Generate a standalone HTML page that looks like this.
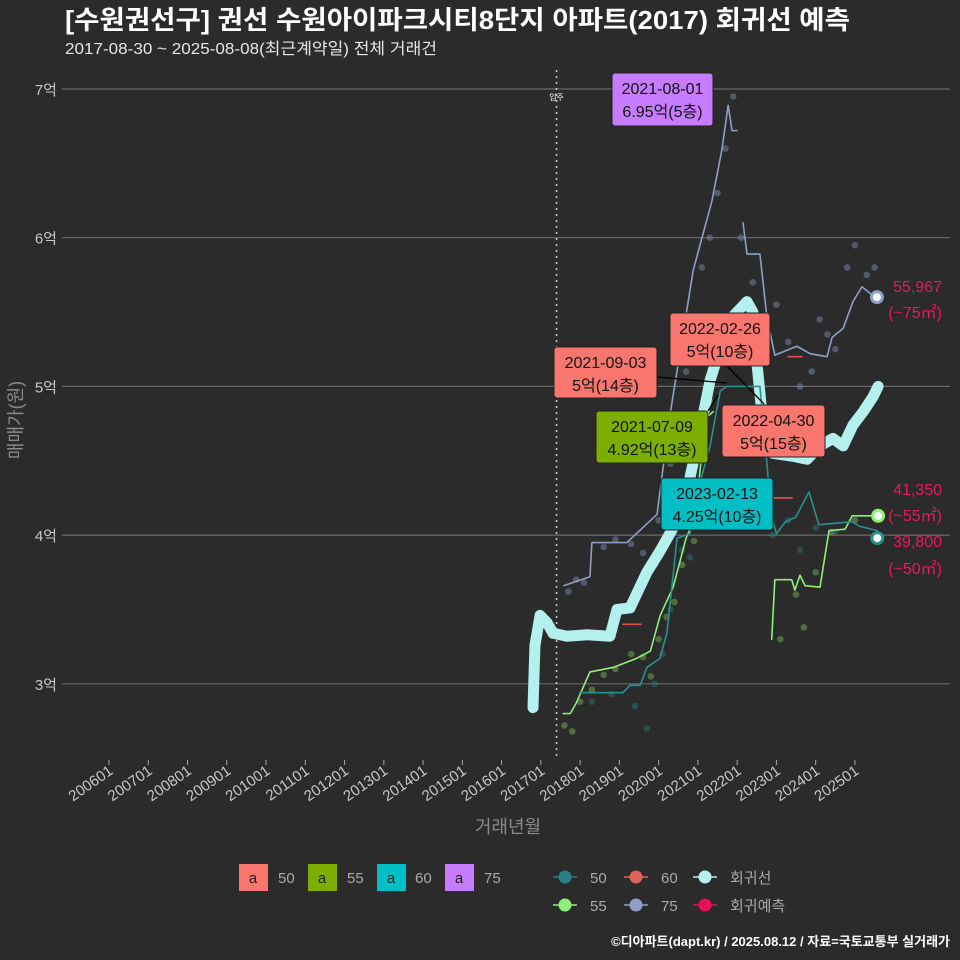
<!DOCTYPE html>
<html><head><meta charset="utf-8">
<style>
html,body{margin:0;padding:0;background:#2b2b2b;}
svg{display:block;font-family:"Liberation Sans","Noto Sans CJK KR",sans-serif;}
</style></head>
<body>
<svg id="chart" width="960" height="960" viewBox="0 0 960 960">
<rect width="960" height="960" fill="#2b2b2b"/>
<text x="65" y="29" fill="#ffffff" font-size="26" font-weight="bold" textLength="785" lengthAdjust="spacingAndGlyphs">[수원권선구] 권선 수원아이파크시티8단지 아파트(2017) 회귀선 예측</text>
<text x="65" y="54" fill="#e6e6e6" font-size="16" textLength="372" lengthAdjust="spacingAndGlyphs">2017-08-30 ~ 2025-08-08(최근계약일) 전체 거래건</text>
<g id="grid"></g>
<g id="axes"></g>
<g id="marks"></g>
<g id="annot"></g>
<text x="0" y="0" transform="translate(22,420) rotate(-90)" text-anchor="middle" fill="#8a8a8a" font-size="18">매매가(원)</text>
<text x="508" y="833" text-anchor="middle" fill="#8a8a8a" font-size="18">거래년월</text>
<g font-size="15">
 <g><rect x="239" y="864" width="29" height="27" fill="#f8766d"/><text x="253" y="883" text-anchor="middle" fill="#222">a</text><text x="278" y="883" fill="#aaa">50</text></g>
 <g><rect x="308" y="864" width="29" height="27" fill="#7cae00"/><text x="322" y="883" text-anchor="middle" fill="#222">a</text><text x="347" y="883" fill="#aaa">55</text></g>
 <g><rect x="377" y="864" width="29" height="27" fill="#00bfc4"/><text x="391" y="883" text-anchor="middle" fill="#222">a</text><text x="415" y="883" fill="#aaa">60</text></g>
 <g><rect x="445" y="864" width="29" height="27" fill="#c77cff"/><text x="459" y="883" text-anchor="middle" fill="#222">a</text><text x="484" y="883" fill="#aaa">75</text></g>
</g>
<g id="legend2" font-size="15"></g>
<text x="950" y="946" text-anchor="end" fill="#ffffff" font-size="13" font-weight="bold">©디아파트(dapt.kr) / 2025.08.12 / 자료=국토교통부 실거래가</text>
</svg>
<script>
// ---- data (year as decimal, price in 억) ----
const yTicks = [3,4,5,6,7];
const xTickYears = [2006,2007,2008,2009,2010,2011,2012,2013,2014,2015,2016,2017,2018,2019,2020,2021,2022,2023,2024,2025];
const regYears = [2016.80,2016.85,2016.98,2017.16,2017.31,2017.67,2018.18,2018.76,2018.94,2019.27,2019.70,2020.03,2020.37,2020.72,2021.06,2021.31,2021.57,2021.89,2022.25,2022.40,2022.51,2022.66,2022.91,2023.42,2023.78,2024.11,2024.44,2024.70,2024.95,2025.21,2025.46,2025.59];
const regValues = [2.84,3.26,3.46,3.41,3.34,3.32,3.33,3.32,3.50,3.51,3.75,3.89,4.05,4.29,4.71,5.04,5.26,5.47,5.57,5.50,5.14,4.74,4.55,4.53,4.51,4.60,4.65,4.60,4.74,4.83,4.93,5.00];
const s75Years = [2017.59,2018.25,2018.30,2019.19,2019.96,2020.29,2020.88,2021.36,2021.61,2021.77,2021.87,2022.00];
const s75Values = [3.66,3.72,3.95,3.95,4.14,4.81,5.78,6.25,6.59,6.89,6.72,6.72];
const s75bYears = [2022.15,2022.25,2022.58,2022.76,2022.96,2023.52,2023.86,2024.29,2024.42,2024.70,2024.95,2025.18,2025.46,2025.56];
const s75bValues = [6.10,5.89,5.89,5.46,5.21,5.27,5.22,5.20,5.33,5.39,5.57,5.67,5.61,5.60];
const s55Years = [2017.57,2017.75,2017.90,2018.25,2018.84,2019.43,2019.79,2020.04,2020.37,2020.70,2020.93,2021.06,2021.21,2021.39];
const s55Values = [2.80,2.80,2.87,3.08,3.11,3.17,3.22,3.46,3.65,3.98,4.12,4.45,4.79,4.83];
const s55bYears = [2022.88,2022.96,2023.39,2023.47,2023.60,2023.73,2024.11,2024.34,2024.75,2024.93,2025.59];
const s55bValues = [3.30,3.70,3.70,3.63,3.73,3.66,3.65,4.03,4.04,4.13,4.13];
const s50Years = [2017.99,2019.09,2019.27,2019.53,2019.70,2020.03,2020.21,2020.47,2020.80,2021.06,2021.31,2021.57,2021.74,2022.58,2022.88,2023.00,2023.23,2023.49,2023.83,2024.08,2024.51,2024.93,2025.11,2025.57];
const s50Values = [2.94,2.94,2.99,2.99,3.11,3.17,3.34,3.98,4.01,4.36,4.60,4.97,5.00,5.00,4.12,4.01,4.09,4.12,4.29,4.07,4.08,4.09,4.06,4.03];
const s60Years = [2019.09,2019.55,2022.93,2023.40,2023.30,2023.65];
const s60Values = [3.40,3.40,4.25,4.25,5.20,5.20];
const dot75Years = [2017.7,2017.9,2018.1,2018.6,2018.9,2019.3,2019.6,2019.9,2020.0,2020.3,2020.5,2020.7,2020.9,2021.1,2021.3,2021.5,2021.7,2021.9,2022.1,2022.4,2022.7,2023.0,2023.3,2023.6,2023.9,2024.1,2024.3,2024.5,2024.8,2025.0,2025.3,2025.5];
const dot75Values = [3.62,3.70,3.68,3.92,3.97,3.94,3.88,3.80,4.10,4.48,4.70,5.10,5.35,5.80,6.00,6.30,6.60,6.95,6.00,5.70,5.40,5.55,5.30,5.00,5.10,5.45,5.35,5.25,5.80,5.95,5.75,5.80];
const dot55Years = [2017.6,2017.8,2018.0,2018.3,2018.6,2018.9,2019.3,2019.6,2019.8,2020.0,2020.2,2020.4,2020.6,2020.9,2021.1,2021.3,2023.1,2023.5,2023.7,2024.0,2024.4,2025.0];
const dot55Values = [2.72,2.68,2.88,2.96,3.06,3.10,3.20,3.18,3.05,3.30,3.45,3.55,3.80,3.96,4.30,4.90,3.30,3.60,3.38,3.75,4.02,4.10];
const dot50Years = [2018.3,2018.8,2019.4,2019.7,2019.9,2020.1,2020.3,2020.6,2020.8,2021.1,2022.9,2023.3,2023.6,2024.0,2024.5];
const dot50Values = [2.88,2.93,2.85,2.70,3.00,3.20,3.50,3.90,3.85,4.30,4.00,4.10,3.90,4.05,4.02];
// ---- scales ----
const X0=109, XPY=39.26, Y7=89, YPU=148.7;
function xs(yr){return X0+(yr-2006)*XPY;}
function ys(v){return Y7+(7-v)*YPU;}
const NS='http://www.w3.org/2000/svg';
function mk(tag,attrs,parent){const e=document.createElementNS(NS,tag);for(const k in attrs)e.setAttribute(k,attrs[k]);parent.appendChild(e);return e;}
const grid=document.getElementById('grid'), axes=document.getElementById('axes'), marks=document.getElementById('marks');
yTicks.forEach(v=>{
  const l=mk('line',{x1:62,x2:950,y1:ys(v),y2:ys(v),stroke:'#6a6a6a','stroke-width':1.2},grid);
  
  
  const t=mk('text',{x:57,y:ys(v)+6,'text-anchor':'end',fill:'#c8c8c8','font-size':15},axes);
  t.textContent=v+'억';
  
  
});
xTickYears.forEach(yr=>{
  const x=xs(yr);
  mk('line',{x1:x,x2:x,y1:760,y2:765,stroke:'#aaa'},axes);
  const t=mk('text',{x:0,y:0,transform:`translate(${x+5},${773}) rotate(-35)`,'text-anchor':'end',fill:'#c8c8c8','font-size':15},axes);
  t.textContent=yr+'01';
  
  
});
// move-in dotted line
const mv=mk('line',{x1:xs(2017.4),x2:xs(2017.4),y1:70,y2:760,stroke:'#cccccc','stroke-width':1.5,'stroke-dasharray':'2,4'},marks);


const mvt=mk('text',{x:xs(2017.4),y:100,'text-anchor':'middle',fill:'#fff','font-size':8},marks);
mvt.textContent='입주';


function dots(yrs,vals,color,name){yrs.forEach((y,i)=>{const c=mk('circle',{cx:xs(y),cy:ys(vals[i]),r:3.3,fill:color,opacity:0.45},marks);});}
dots(dot75Years,dot75Values,'#8393b5','dot-75');
dots(dot55Years,dot55Values,'#7fbf5a','dot-55');
dots(dot50Years,dot50Values,'#2c7a7a','dot-50');
function line(yrs,vals,color,w,name){const p=mk('polyline',{points:yrs.map((y,i)=>xs(y)+','+ys(vals[i])).join(' '),fill:'none',stroke:color,'stroke-width':w,'stroke-linejoin':'round','stroke-linecap':'round'},marks);}
line(regYears,regValues,'#b4f0ee',11,'regression-line');
line(s75Years,s75Values,'#8ea0c8',1.6,'line-75');
line(s75bYears,s75bValues,'#8ea0c8',1.6,'line-75-b');
line(s55Years,s55Values,'#90ee7a',1.6,'line-55');
line(s55bYears,s55bValues,'#90ee7a',1.6,'line-55-b');
line(s50Years,s50Values,'#2a9090',1.6,'line-50');
for(let i=0;i<s60Years.length;i+=2){line([s60Years[i],s60Years[i+1]],[s60Values[i],s60Values[i+1]],'#e0504f',1.6,'line-60');}
function endDot(yr,v,color,name){const c=mk('circle',{cx:xs(yr),cy:ys(v),r:5.5,fill:'#fff',stroke:color,'stroke-width':3},marks);}
endDot(2025.56,5.60,'#8ea0c8','end-point-75');
endDot(2025.59,4.13,'#90ee7a','end-point-55');
endDot(2025.57,3.98,'#2a9090','end-point-50');
// annotations
const annot=document.getElementById('annot');
const boxes=[
 [612,73,101,53,'#c77cff','2021-08-01','6.95억(5층)',null],
 [554,347,103,51,'#f8766d','2021-09-03','5억(14층)',[657,377,727,383]],
 [670,313,100,53,'#f8766d','2022-02-26','5억(10층)',[727,366,764,404]],
 [596,411,112,52,'#7cae00','2021-07-09','4.92억(13층)',[708,411,718,395]],
 [722,405,103,52,'#f8766d','2022-04-30','5억(15층)',null],
 [661,478,112,52,'#00bfc4','2023-02-13','4.25억(10층)',null]
];
boxes.forEach(b=>{
  if(b[7]){const l=mk('line',{x1:b[7][0],y1:b[7][1],x2:b[7][2],y2:b[7][3],stroke:'#000','stroke-width':1.3},annot);}
  const g=mk('g',{},annot);
  
  
  mk('rect',{x:b[0],y:b[1],width:b[2],height:b[3],rx:3,fill:b[4],stroke:'#222','stroke-width':1},g);
  const t1=mk('text',{x:b[0]+b[2]/2,y:b[1]+21,'text-anchor':'middle',fill:'#111','font-size':16},g);t1.textContent=b[5];
  const t2=mk('text',{x:b[0]+b[2]/2,y:b[1]+44,'text-anchor':'middle',fill:'#111','font-size':16},g);t2.textContent=b[6];
});
[[286,'55,967'],[312,'(~75㎡)'],[489,'41,350'],[515,'(~55㎡)'],[541,'39,800'],[568,'(~50㎡)']].forEach(r=>{
  const t=mk('text',{x:942,y:r[0]+6,'text-anchor':'end',fill:'#e8185e','font-size':16},annot);
  t.textContent=r[1];
  
  
});
// legend 2
const lg=document.getElementById('legend2');
[[565,877,'#2a8080','50'],[636,877,'#e0605a','60'],[705,877,'#b4f0ee','회귀선'],[565,905,'#90ee7a','55'],[636,905,'#8ea0c8','75'],[705,905,'#e8105a','회귀예측']].forEach(e=>{
  const g=mk('g',{},lg);
  
  
  mk('line',{x1:e[0]-12,x2:e[0]+12,y1:e[1],y2:e[1],stroke:e[2],'stroke-width':1.6},g);
  mk('circle',{cx:e[0],cy:e[1],r:6.5,fill:e[2]},g);
  const t=mk('text',{x:e[0]+25,y:e[1]+6,fill:'#aaa'},g);t.textContent=e[3];
});
</script>
</body></html>
